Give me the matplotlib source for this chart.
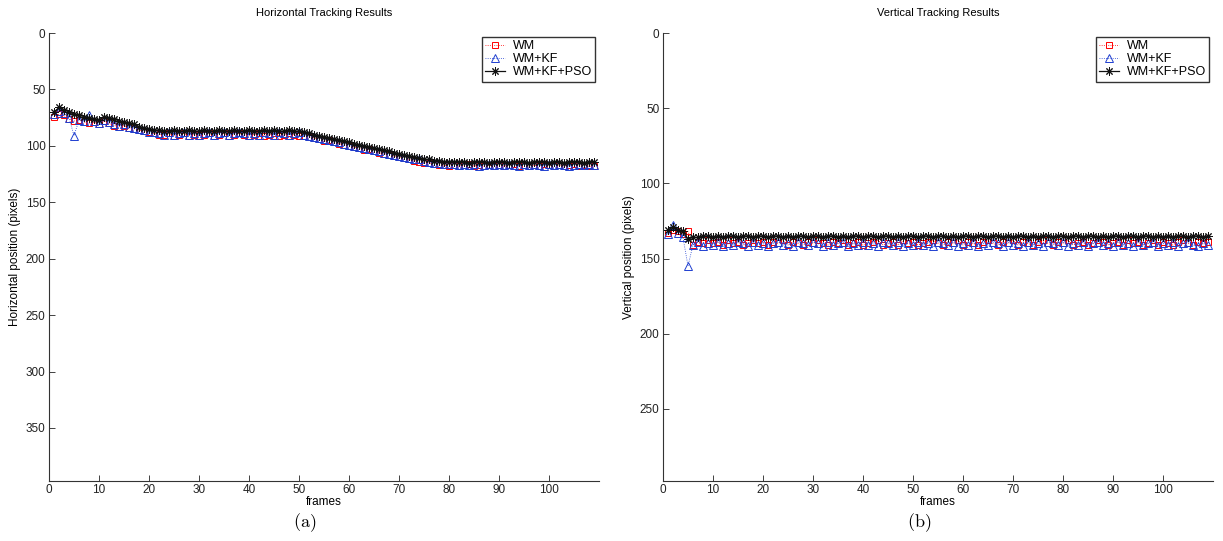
import matplotlib
matplotlib.use("Agg")
import matplotlib.pyplot as plt

frames = list(range(1, 110))

h_wm = [74, 72, 73, 76, 78, 77, 79, 80, 79, 81,
        78, 80, 82, 83, 82, 84, 85, 86, 87, 88,
        89, 90, 90, 89, 91, 90, 89, 91, 90, 91,
        90, 89, 91, 90, 89, 91, 90, 89, 90, 91,
        90, 89, 91, 90, 89, 91, 90, 89, 90, 91,
        91, 92, 93, 94, 96, 95, 97, 98, 99, 100,
        101, 102, 104, 103, 105, 106, 107, 108, 109, 110,
        111, 112, 113, 114, 115, 115, 116, 117, 117, 118,
        117, 118, 117, 116, 118, 117, 118, 117, 118, 117,
        118, 117, 116, 118, 117, 118, 117, 118, 116, 117,
        118, 117, 118, 117, 116, 118, 117, 118, 118]
h_kf = [72, 69, 71, 75, 91, 77, 78, 73, 78, 80,
        77, 79, 81, 82, 81, 83, 84, 85, 86, 88,
        88, 89, 90, 88, 90, 89, 88, 90, 89, 90,
        89, 88, 90, 89, 88, 90, 89, 88, 89, 90,
        89, 90, 88, 89, 90, 88, 89, 90, 89, 88,
        90, 91, 92, 93, 94, 95, 96, 97, 98, 99,
        100, 101, 102, 103, 104, 105, 106, 107, 108, 109,
        110, 111, 112, 112, 113, 114, 115, 115, 116, 116,
        116, 117, 116, 117, 116, 118, 117, 116, 117, 116,
        117, 116, 117, 118, 116, 117, 116, 117, 118, 116,
        117, 116, 117, 118, 117, 116, 117, 116, 117]
h_pso = [70, 66, 68, 70, 72, 73, 74, 75, 76, 77,
         74, 75, 76, 78, 79, 80, 81, 83, 84, 85,
         86, 86, 87, 87, 86, 87, 87, 86, 87, 87,
         86, 87, 87, 86, 87, 87, 86, 87, 87, 86,
         87, 87, 86, 87, 86, 87, 87, 86, 87, 87,
         88, 89, 90, 91, 92, 93, 94, 95, 96, 97,
         98, 99, 100, 101, 102, 103, 104, 105, 106, 107,
         108, 109, 110, 111, 112, 112, 113, 113, 114, 114,
         114, 114, 114, 115, 114, 114, 114, 115, 114, 114,
         114, 115, 114, 114, 114, 115, 114, 114, 114, 115,
         114, 114, 115, 114, 114, 114, 115, 114, 114]

v_wm = [133, 131, 132, 134, 132, 141, 139, 140, 138, 140,
        139, 141, 138, 140, 139, 141, 140, 138, 140, 139,
        141, 139, 140, 138, 141, 139, 140, 141, 139, 140,
        138, 140, 141, 139, 140, 138, 141, 140, 139, 141,
        140, 139, 138, 141, 140, 139, 141, 138, 140, 139,
        141, 140, 139, 138, 140, 141, 139, 140, 138, 141,
        139, 140, 141, 139, 138, 140, 141, 139, 140, 138,
        141, 139, 140, 141, 139, 138, 140, 141, 139, 140,
        138, 141, 140, 139, 141, 140, 138, 139, 141, 140,
        139, 141, 138, 140, 139, 141, 140, 138, 141, 139,
        140, 141, 139, 138, 140, 141, 139, 140, 139]
v_kf = [134, 128, 133, 136, 155, 141, 139, 142, 140, 141,
        139, 142, 140, 141, 139, 140, 142, 139, 141, 140,
        142, 140, 139, 141, 140, 142, 139, 140, 141, 139,
        140, 142, 139, 141, 140, 139, 142, 140, 141, 139,
        141, 140, 142, 139, 140, 141, 139, 142, 140, 141,
        139, 141, 140, 142, 139, 140, 141, 139, 142, 140,
        141, 139, 142, 140, 141, 139, 140, 142, 139, 141,
        140, 142, 139, 141, 140, 142, 139, 140, 141, 139,
        142, 140, 141, 139, 142, 140, 139, 141, 140, 142,
        139, 141, 140, 142, 139, 141, 140, 139, 142, 140,
        141, 139, 142, 140, 139, 141, 142, 140, 141]
v_pso = [131, 129, 131, 132, 137, 136, 136, 135, 135, 136,
         135, 136, 135, 135, 136, 135, 135, 136, 135, 135,
         136, 135, 135, 136, 135, 136, 135, 135, 136, 135,
         135, 136, 135, 135, 136, 135, 136, 135, 135, 136,
         135, 135, 136, 135, 135, 136, 135, 136, 135, 135,
         136, 135, 135, 136, 135, 135, 136, 135, 136, 135,
         135, 136, 135, 135, 136, 135, 135, 136, 135, 136,
         135, 135, 136, 135, 136, 135, 135, 136, 135, 135,
         136, 135, 135, 136, 135, 135, 136, 135, 136, 135,
         135, 136, 135, 135, 136, 135, 135, 136, 135, 136,
         135, 136, 135, 135, 136, 135, 135, 136, 135]

labels = ["WM", "WM+KF", "WM+KF+PSO"]
xticks = list(range(0, 101, 10))

plt.rcParams['font.family'] = ['Liberation Sans', 'DejaVu Sans']
plt.rcParams['mathtext.fontset'] = 'cm'

W, H = 1223, 541
fig = plt.figure(figsize=(W / 100, H / 100), dpi=100)

panels = [
    dict(left=49, wm=h_wm, kf=h_kf, pso=h_pso, ylim=397, yticks=list(range(0, 351, 50)),
         title="Horizontal Tracking Results", ylabel="Horizontal position (pixels)", tag="a"),
    dict(left=663, wm=v_wm, kf=v_kf, pso=v_pso, ylim=298, yticks=list(range(0, 251, 50)),
         title="Vertical Tracking Results", ylabel="Vertical position (pixels)", tag="b"),
]

RED = '#ff0000'
BLUE = '#1f3fd0'

for p in panels:
    ax = fig.add_axes([p['left'] / W, 1 - 481 / H, 550 / W, 448 / H])
    ax.plot(frames, p['wm'], linestyle=':', color=RED, linewidth=0.6,
            marker='s', markersize=5, markerfacecolor='none', markeredgecolor=RED,
            markeredgewidth=0.7, label=labels[0])
    ax.plot(frames, p['kf'], linestyle=':', color=BLUE, linewidth=0.6,
            marker='^', markersize=6, markerfacecolor='none', markeredgecolor=BLUE,
            markeredgewidth=0.7, label=labels[1])
    ax.plot(frames, p['pso'], linestyle='-', color='#111111', linewidth=0.9,
            marker=(8, 2, 0), markersize=6, markerfacecolor='#111111', markeredgecolor='#111111',
            markeredgewidth=0.7, label=labels[2])
    ax.set_xlim(0, 110)
    ax.set_ylim(p['ylim'], 0)
    ax.set_xticks(xticks)
    ax.set_yticks(p['yticks'])
    ax.spines['top'].set_visible(False)
    ax.spines['right'].set_visible(False)
    for s in ('left', 'bottom'):
        ax.spines[s].set_color('#333333')
        ax.spines[s].set_linewidth(0.8)
    ax.tick_params(direction='in', length=4, width=0.6, labelsize=8.5, colors='#222222', pad=2.5)
    ax.set_title(p['title'], fontsize=8, pad=12)
    ax.set_ylabel(p['ylabel'], fontsize=8.5, labelpad=3)
    ax.set_xlabel("frames", fontsize=8.5, labelpad=0)
    leg = ax.legend(loc='upper right', fontsize=9, frameon=True, fancybox=False,
                    edgecolor='black', borderpad=0.25, labelspacing=0.1,
                    handlelength=1.6, handletextpad=0.6, borderaxespad=0.3)
    leg.get_frame().set_linewidth(1.0)
    fig.text((p['left'] + 256) / W, 1 - 523 / H, r'$\mathrm{(' + p['tag'] + r')}$',
             ha='center', va='center', fontsize=13)

fig.savefig("out.png", dpi=100)
